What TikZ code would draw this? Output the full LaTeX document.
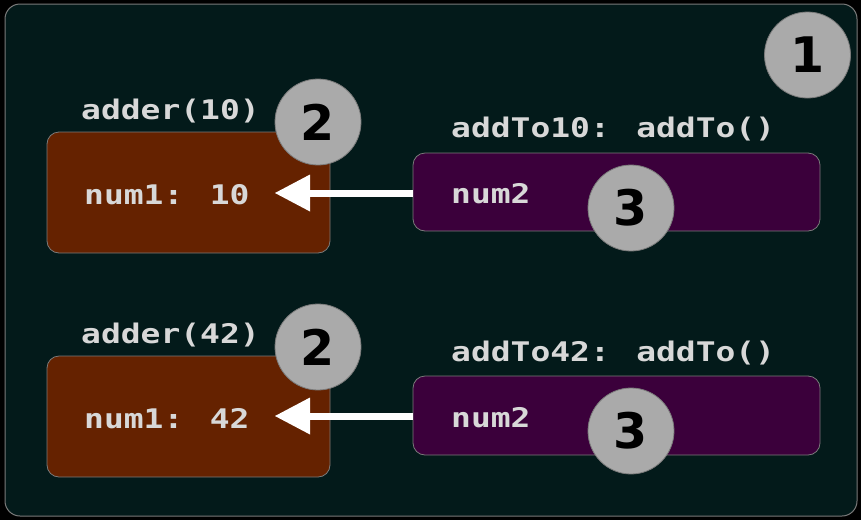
\documentclass[tikz,border=0pt]{standalone}
\usepackage{fontspec}
\newfontfamily\codefont{DejaVu Sans Mono}[FakeStretch=1.22]
\newfontfamily\badgefont{DejaVu Sans}
\definecolor{pagebg}{HTML}{000000}
\definecolor{panelbg}{HTML}{031A1A}
\definecolor{framecol}{HTML}{7A7A7A}
\definecolor{adderbg}{HTML}{652200}
\definecolor{addtobg}{HTML}{3B003B}
\definecolor{codecol}{HTML}{D8D8D8}
\definecolor{badgebg}{HTML}{AAAAAA}
\begin{document}
\begin{tikzpicture}[x=1pt,y=-1pt,
  panel/.style={draw=framecol, line width=1pt, fill=panelbg, rounded corners=15pt},
  adderbox/.style={draw=framecol, line width=0.8pt, fill=adderbg, rounded corners=12pt, inner sep=0pt},
  addtobox/.style={draw=framecol, line width=0.8pt, fill=addtobg, rounded corners=12pt, inner sep=0pt},
  code/.style={text=codecol, font=\codefont\bfseries\fontsize{27}{30}\selectfont, inner sep=0pt, anchor=base west},
  badge/.style={circle, draw=framecol, line width=0.8pt, fill=badgebg, minimum size=86pt, inner sep=0pt,
    font=\badgefont\bfseries\fontsize{49}{50}\selectfont, text=black},
  shaft/.style={white, line width=7pt},
  head/.style={fill=white}
]
\fill[pagebg] (0,0) rectangle (861,520);
\useasboundingbox (0,0) rectangle (861,520);
\draw[panel] (5,4) rectangle (857,516);

% first call: adder(10) and its returned closure
\node[adderbox, minimum width=283pt, minimum height=121pt] (b1) at (188.5,192.5) {};
\node[addtobox, minimum width=407pt, minimum height=78pt] (p1) at (616.5,192) {};
\node[code] (l1) at (81,119) {adder(10)};
\node[code] (v1) at (84,204) {num1: 10};
\node[code] (f1) at (451,137) {addTo10: addTo()};
\node[code] (a1) at (451,203) {num2};
\coordinate (t1) at (275,193);
\draw[shaft] (p1.west |- t1) -- ([xshift=34pt]t1);
\fill[head] (t1) -- ++(35,-18.5) -- ++(0,37) -- cycle;

% second call: adder(42) and its returned closure
\node[adderbox, minimum width=283pt, minimum height=121pt] (b2) at (188.5,416.5) {};
\node[addtobox, minimum width=407pt, minimum height=79pt] (p2) at (616.5,415.5) {};
\node[code] (l2) at (81,343) {adder(42)};
\node[code] (v2) at (84,428) {num1: 42};
\node[code] (f2) at (451,361) {addTo42: addTo()};
\node[code] (a2) at (451,427) {num2};
\coordinate (t2) at (275,416);
\draw[shaft] (p2.west |- t2) -- ([xshift=34pt]t2);
\fill[head] (t2) -- ++(35,-18.5) -- ++(0,37) -- cycle;

% numbered badges
\node[badge] (n1) at (807.5,55) {1};
\node[badge] (n2a) at (318,122) {2};
\node[badge] (n2b) at (318,347) {2};
\node[badge] (n3a) at (631,208) {3};
\node[badge] (n3b) at (631,431) {3};
\end{tikzpicture}
\end{document}
